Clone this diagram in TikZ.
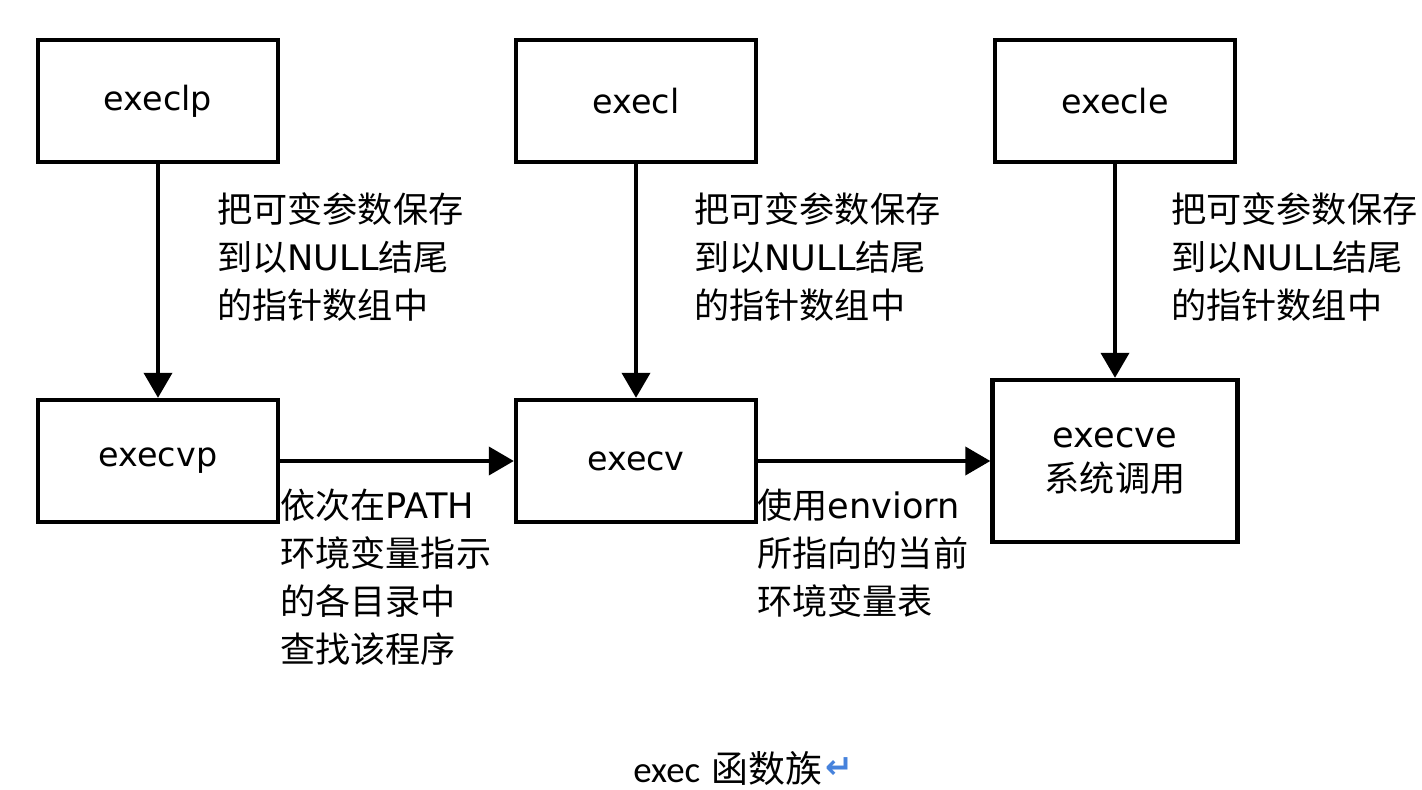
\documentclass[tikz,border=0pt]{standalone}
\usepackage{fontspec}
\setmainfont{DejaVu Sans}
\newfontfamily\cjk{Noto Sans CJK SC}
\newfontfamily\capfont{Carlito}
\usetikzlibrary{arrows.meta}
\newcommand{\zh}[1]{{\cjk #1}}
\definecolor{markblue}{RGB}{70,130,220}
\tikzset{
  fnbox/.style={draw, line width=2.5pt, minimum width=4.8cm, minimum height=2.44cm, font=\fontsize{19}{24}\selectfont},
  note/.style={anchor=north west, inner sep=0pt, align=left, font=\fontsize{20}{27.3}\selectfont},
  flow/.style={line width=2.2pt, -{Triangle[length=0.5cm,width=0.56cm]}}
}
\begin{document}
\begin{tikzpicture}[x=0.02cm, y=-0.02cm]
		%%%%% START %%%%%
		\useasboundingbox[fill=white] (0,0) rectangle (1422,790);
		
		\node[fnbox] (execlp) at (158, 101) {execlp};
		\node[fnbox] (execl) at (636, 101) {execl};
		\node[fnbox] (execle) at (1115, 101) {execle};
		
		\node[fnbox] (execvp) at (158, 461) {execvp};
		\node[fnbox] (execv) at (636, 461) {execv};
		\node[fnbox, minimum width=4.9cm, minimum height=3.24cm, align=center, font=\fontsize{20}{25}\selectfont] (execve) at (1115, 461) {execve\\\zh{系统调用}};
		
		\draw[flow] (execlp) -- (execvp);
		\draw[flow] (execl) -- (execv);
		\draw[flow] (execle) -- (execve);
		\draw[flow] (execvp) -- (execv);
		\draw[flow] (execv) -- (execve);
		
		\node[note] (packlp) at (217, 192) {\zh{把可变参数保存}\\\zh{到以}NULL\zh{结尾}\\\zh{的指针数组中}};
		\node[note] (packl) at (694, 192) {\zh{把可变参数保存}\\\zh{到以}NULL\zh{结尾}\\\zh{的指针数组中}};
		\node[note] (packle) at (1171, 192) {\zh{把可变参数保存}\\\zh{到以}NULL\zh{结尾}\\\zh{的指针数组中}};
		
		\node[note] (search) at (280, 489) {\zh{依次在}PATH\\\zh{环境变量指示}\\\zh{的各目录中}\\\zh{查找该程序}};
		\node[note] (environ) at (757, 489) {\zh{使用}enviorn\\\zh{所指向的当前}\\\zh{环境变量表}};
		
		\node[font=\fontsize{21}{24}\selectfont] (caption) at (728, 768) {{\capfont exec} \zh{函数族}};
		\node[anchor=west, inner sep=0pt, xshift=-2pt, text=markblue, font=\fontsize{19}{21}\selectfont\bfseries] (mark) at (caption.east) {↵};
		%%%%% END %%%%%
	\end{tikzpicture}
\end{document}
